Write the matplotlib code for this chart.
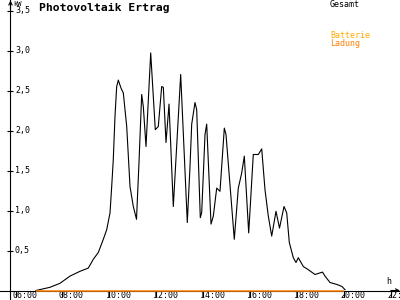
import matplotlib
matplotlib.use("Agg")
import matplotlib.pyplot as plt
from matplotlib.transforms import offset_copy

# ---- data (hours of day, kW) ----
gesamt_h = [6.87, 7.467, 7.893, 8.32, 8.746, 9.10, 9.313, 9.527, 9.74, 9.885,
            10.026, 10.098, 10.166, 10.239, 10.311, 10.38, 10.495, 10.593, 10.738,
            10.879, 11.019, 11.156, 11.262, 11.377, 11.446, 11.561, 11.761, 11.957,
            12.085, 12.23, 12.299, 12.414, 12.542, 12.725, 13.04, 13.322, 13.437,
            13.51, 13.65, 13.723, 13.876, 13.936, 14.077, 14.149, 14.333, 14.431,
            14.576, 14.716, 14.90, 14.972, 15.326, 15.497, 15.642, 15.753, 15.94,
            16.136, 16.35, 16.495, 16.635, 16.776, 16.921, 17.104, 17.254, 17.446,
            17.561, 17.672, 17.842, 17.957, 18.055, 18.269, 18.482, 18.768, 19.087,
            19.194, 19.407, 19.706, 19.919, 20.047]
gesamt_kw = [0.0, 0.04, 0.09, 0.18, 0.24, 0.28, 0.39, 0.475, 0.64, 0.76,
             0.97, 1.30, 1.64, 2.18, 2.55, 2.63, 2.53, 2.47, 2.05,
             1.30, 1.05, 0.89, 1.60, 2.45, 2.30, 1.80, 2.97, 2.01,
             2.05, 2.55, 2.54, 1.85, 2.33, 1.05, 2.70, 0.85, 1.55,
             2.08, 2.35, 2.26, 0.91, 0.975, 1.95, 2.08, 0.83, 0.93,
             1.28, 1.24, 2.03, 1.95, 0.64, 1.28, 1.47, 1.68, 0.72,
             1.70, 1.70, 1.77, 1.26, 0.93, 0.68, 0.99, 0.78, 1.05,
             0.97, 0.60, 0.41, 0.35, 0.41, 0.30, 0.26, 0.20, 0.23,
             0.18, 0.10, 0.075, 0.05, 0.01]
ladung_h = [6.87, 20.0]
ladung_kw = [0.0, 0.0]

x_ticks = [6, 8, 10, 12, 14, 16, 18, 20, 22]
x_labels = ["06:00", "08:00", "10:00", "12:00", "14:00", "16:00", "18:00", "20:00", "22:"]
y_ticks = [0.5, 1.0, 1.5, 2.0, 2.5, 3.0, 3.5]
y_labels = ["0,5", "1,0", "1,5", "2,0", "2,5", "3,0", "3,5"]

title = "Photovoltaik Ertrag"
legend_labels = ["Gesamt", "Batterie", "Ladung"]
legend_colors = ["#000000", "#FFAA00", "#FF8000"]

plt.rcParams['font.family'] = ['DejaVu Sans Mono']

fig = plt.figure(figsize=(4, 3), dpi=100)
ax = fig.add_axes([0, 0, 1, 1])
ax.set_xlim(5.335, 22.392)
ax.set_ylim(-0.11875, 3.63125)
ax.patch.set_alpha(0)

y_axis_x = 5.7825
for s in ['top', 'right']:
    ax.spines[s].set_visible(False)
ax.spines['left'].set_position(('data', y_axis_x))
ax.spines['bottom'].set_position(('data', 0))
ax.spines['left'].set_linewidth(0.8)
ax.spines['bottom'].set_linewidth(0.8)

ax.set_xticks(x_ticks)
ax.set_xticklabels([])
ax.set_yticks(y_ticks)
ax.set_yticklabels([])
ax.tick_params(axis='x', direction='out', length=4.5, width=0.8)
ax.tick_params(axis='y', direction='inout', length=5, width=0.8)

# tick labels
for t, l in zip(x_ticks, x_labels):
    tr = offset_copy(ax.transData, fig=fig, x=-3.5, y=-5.5, units='dots')
    ax.text(t, 0, l, transform=tr, ha='left', va='center', fontsize=6, clip_on=False)
for t, l in zip(y_ticks, y_labels):
    tr = offset_copy(ax.transData, fig=fig, x=4.5, y=0, units='dots')
    ax.text(y_axis_x, t, l, transform=tr, ha='left', va='center', fontsize=6)

# axis arrows
ax.annotate('', xy=(22.392, 0), xytext=(22.0, 0),
            arrowprops=dict(arrowstyle='->', lw=0.8, color='black', shrinkA=0, shrinkB=0,
                            mutation_scale=6))
ax.annotate('', xy=(y_axis_x, 3.625), xytext=(y_axis_x, 3.5),
            arrowprops=dict(arrowstyle='->', lw=0.8, color='black', shrinkA=0, shrinkB=0,
                            mutation_scale=6))

# data
ax.plot(gesamt_h, gesamt_kw, color='black', lw=0.8, zorder=3)
ax.plot(ladung_h, ladung_kw, color='#FF8000', lw=1.1, zorder=4, solid_capstyle='butt')

# texts
fig.text(39 / 400, 1 - 11 / 300, title, fontsize=8.2, fontweight='bold', va='baseline')
fig.text(13 / 400, 1 - 4.5 / 300, "kW", fontsize=5, va='center')
fig.text(386 / 400, 1 - 282 / 300, "h", fontsize=6, va='center')
for lbl, col, yy in zip(legend_labels, legend_colors, [4.5, 35.5, 43.5]):
    fig.text(330 / 400, 1 - yy / 300, lbl, fontsize=6, color=col, va='center')

fig.savefig("out.png", dpi=100)
